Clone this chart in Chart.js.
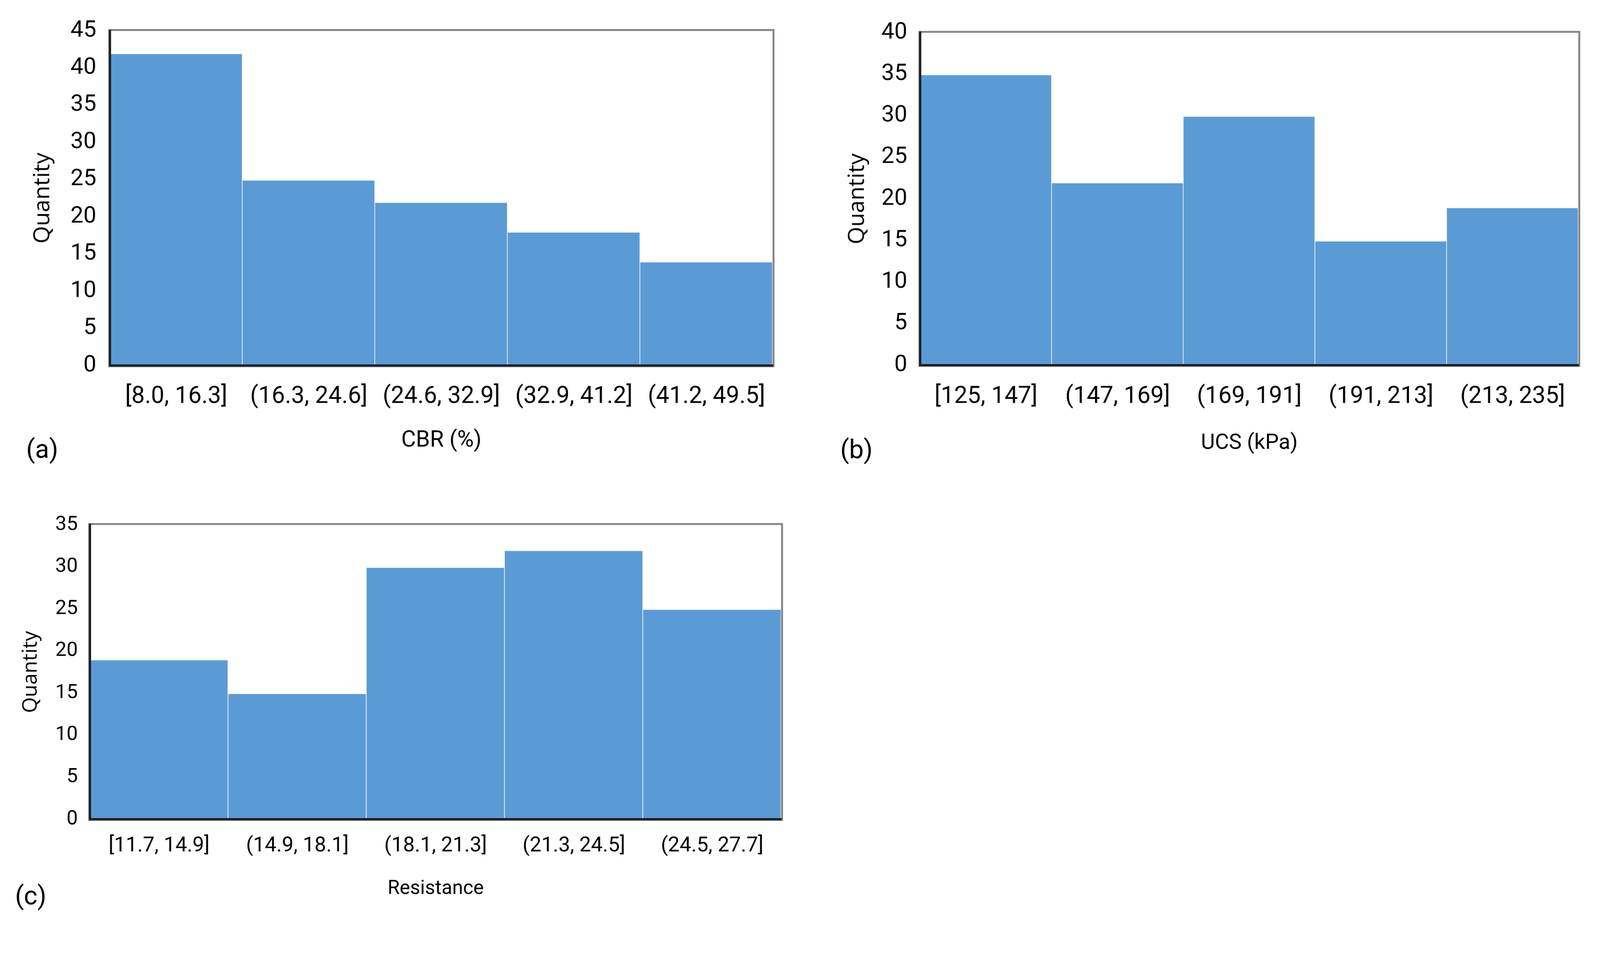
<!DOCTYPE html>
<html><head><meta charset="utf-8">
<script src="https://cdn.jsdelivr.net/npm/chart.js@4.4.1/dist/chart.umd.min.js"></script>
<style>
html,body{margin:0;padding:0;background:#fff;overflow:hidden}
#page{position:absolute;left:0;top:0;width:4321px;height:2488px;transform-origin:0 0;background:#fff}
canvas{position:absolute}
.lbl{position:absolute;font-family:Roboto,'Noto Sans',sans-serif;font-size:70px;color:#000;transform:translate(-50%,-50%);white-space:nowrap;line-height:1}
</style></head><body>
<div id="page">
<canvas id="ca" style="left:0;top:0" width="2160" height="1300"></canvas>
<canvas id="cb" style="left:2160px;top:0" width="2161" height="1300"></canvas>
<canvas id="cc" style="left:0;top:1300px" width="2200" height="1188"></canvas>
<div class="lbl" style="left:114px;top:1212px">(a)</div>
<div class="lbl" style="left:2313px;top:1213px">(b)</div>
<div class="lbl" style="left:83px;top:2418px">(c)</div>
</div>
<script>
// ---- data ----
const cbrBins = ['[8.0, 16.3]', '(16.3, 24.6]', '(24.6, 32.9]', '(32.9, 41.2]', '(41.2, 49.5]'];
const cbrCounts = [42, 25, 22, 18, 14];
const ucsBins = ['[125, 147]', '(147, 169]', '(169, 191]', '(191, 213]', '(213, 235]'];
const ucsCounts = [35, 22, 30, 15, 19];
const resBins = ['[11.7, 14.9]', '(14.9, 18.1]', '(18.1, 21.3]', '(21.3, 24.5]', '(24.5, 27.7]'];
const resCounts = [19, 15, 30, 32, 25];
const yMaxA = 45, yMaxB = 40, yMaxC = 35, yStep = 5;

// fit the 4321x2488 design into the actual viewport
(function () {
  const s = Math.min(window.innerWidth / 4321, window.innerHeight / 2488);
  if (s > 0 && Math.abs(s - 1) > 0.002) {
    document.getElementById('page').style.transform = 'scale(' + s + ')';
  }
})();

const NARROW = "Roboto,'Noto Sans',sans-serif";
const WIDE = "'Open Sans','Noto Sans',sans-serif";

const framePlugin = {
  id: 'frame',
  beforeDatasetsDraw(chart) {
    const {ctx, chartArea: a} = chart;
    ctx.save();
    ctx.strokeStyle = '#808080';
    ctx.lineWidth = 5;
    ctx.strokeRect(a.left - 2, a.top - 2, a.right - a.left + 4, a.bottom - a.top + 4);
    ctx.restore();
  }
};

function makePanel(id, labels, values, yMax, g) {
  new Chart(document.getElementById(id), {
    type: 'bar',
    data: {
      labels: labels,
      datasets: [{
        data: values,
        backgroundColor: '#5B9BD5',
        borderColor: 'rgba(255,255,255,0.25)',
        borderWidth: {top: 3, right: 2, bottom: 0, left: 0},
        borderSkipped: false,
        categoryPercentage: 1,
        barPercentage: 1
      }]
    },
    options: {
      responsive: false,
      animation: false,
      devicePixelRatio: 1,
      layout: {padding: {left: 0, top: g.padTop, right: g.padRight, bottom: 0}},
      plugins: {legend: {display: false}, tooltip: {enabled: false}},
      scales: {
        x: {
          grid: {display: false, drawTicks: false},
          border: {display: true, color: '#1f1f1f', width: 6, z: 1},
          ticks: {color: '#000', font: {family: NARROW, size: g.xFont}, padding: g.xTickPad, maxRotation: 0, autoSkip: false},
          title: {display: true, text: g.xTitle, color: '#000', font: {family: NARROW, size: g.xTitleFont}, padding: {top: 0, bottom: g.xTitlePad}},
          afterFit(s) { s.height = g.xH; }
        },
        y: {
          min: 0, max: yMax,
          grid: {display: false, drawTicks: false},
          border: {display: true, color: '#1f1f1f', width: 6, z: 1},
          ticks: {stepSize: yStep, color: '#000', font: {family: NARROW, size: g.yFont}, padding: g.yTickPad},
          title: {display: true, text: 'Quantity', color: '#000', font: {family: WIDE, size: g.yTitleFont}, padding: {top: g.yTitlePad, bottom: 0}},
          afterFit(s) { s.width = g.yW; }
        }
      }
    },
    plugins: [framePlugin]
  });
}

makePanel('ca', cbrBins, cbrCounts, yMaxA, {
  padTop: 83, padRight: 73, yW: 297, xH: 313,
  xFont: 64, xTickPad: 47, xTitle: 'CBR (%)', xTitleFont: 61, xTitlePad: 73,
  yFont: 62, yTickPad: 37, yTitleFont: 61, yTitlePad: 79
});
makePanel('cb', ucsBins, ucsCounts, yMaxB, {
  padTop: 88, padRight: 58, yW: 325, xH: 314,
  xFont: 64, xTickPad: 48, xTitle: 'UCS (kPa)', xTitleFont: 58, xTitlePad: 68,
  yFont: 62, yTickPad: 35, yTitleFont: 61, yTitlePad: 119
});
makePanel('cc', resBins, resCounts, yMaxC, {
  padTop: 117, padRight: 90, yW: 243, xH: 276,
  xFont: 56, xTickPad: 39, xTitle: 'Resistance', xTitleFont: 53, xTitlePad: 55,
  yFont: 54, yTickPad: 33, yTitleFont: 55, yTitlePad: 50
});
</script>
</body></html>
